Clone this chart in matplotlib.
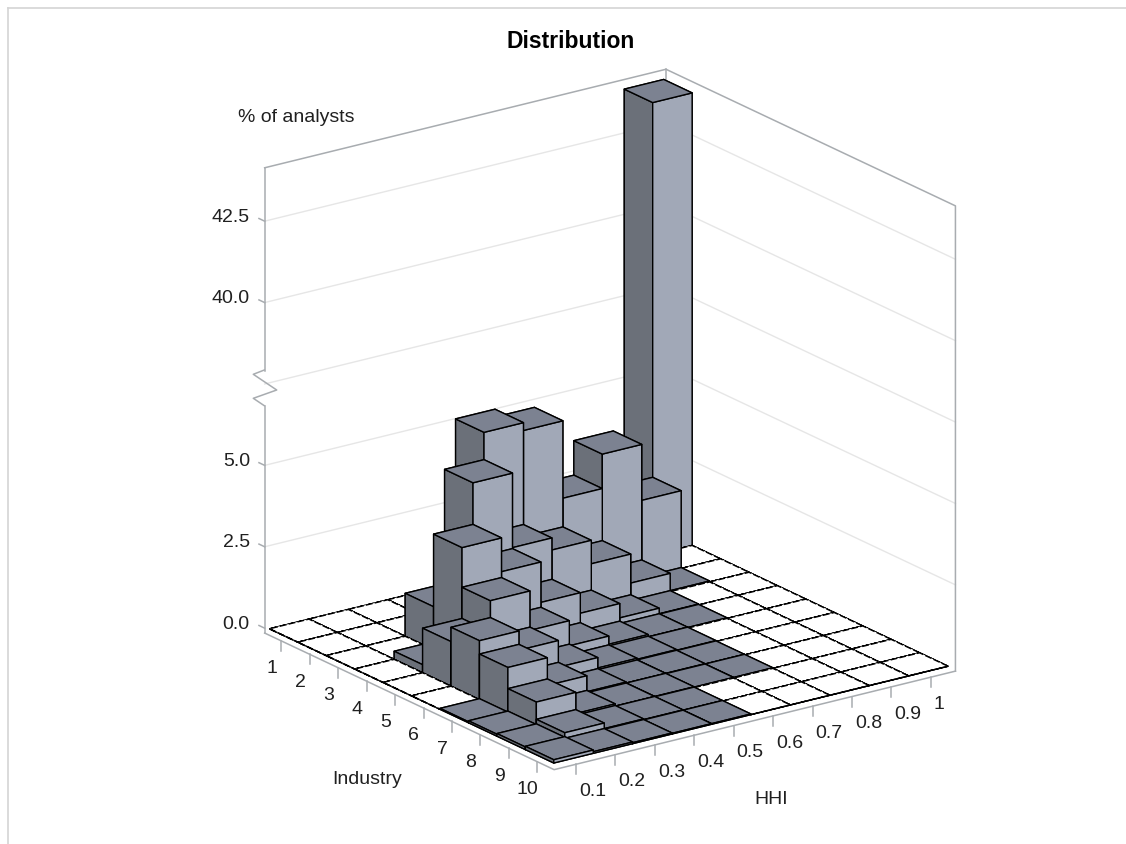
import numpy as np
import matplotlib
matplotlib.use('agg')
import matplotlib.pyplot as plt
from matplotlib.lines import Line2D
from mpl_toolkits.mplot3d import proj3d

plt.rcParams['font.family'] = ['Liberation Sans', 'DejaVu Sans']

W, H = 1126, 844

industry_labels = ['1', '2', '3', '4', '5', '6', '7', '8', '9', '10']
hhi_labels = ['0.1', '0.2', '0.3', '0.4', '0.5', '0.6', '0.7', '0.8', '0.9', '1']
pct_ticks = [0.0, 2.5, 5.0, 40.0, 42.5]

# % of analysts, HHI bins 0.1 .. 1
industry_1 = [0, 0, 0, 0, 0, 0, 0, 0, 0, 43.9]
industry_2 = [0, 0, 0, 0, 5.67, 5.43, 3.05, 4.11, 2.39, 0]
industry_3 = [0, 0, 1.32, 4.83, 2.54, 2.17, 1.45, 0.56, 0.03, 0]
industry_4 = [0, 0.25, 3.55, 2.51, 1.27, 0.64, 0.2, 0.03, 0, 0]
industry_5 = [0, 1.37, 2.33, 1.12, 0.35, 0.1, 0.03, 0.02, 0, 0]
industry_6 = [0, 1.81, 1.22, 0.4, 0.08, 0.05, 0.03, 0, 0, 0]
industry_7 = [0.03, 1.4, 0.55, 0.06, 0.03, 0.03, 0.02, 0, 0, 0]
industry_8 = [0.06, 0.75, 0.1, 0.03, 0.03, 0.02, 0.02, 0, 0, 0]
industry_9 = [0.08, 0.22, 0.05, 0.03, 0.02, 0, 0, 0, 0, 0]
industry_10 = [0.1, 0.05, 0.03, 0.02, 0.02, 0, 0, 0, 0, 0]

rows = [industry_1, industry_2, industry_3, industry_4, industry_5,
        industry_6, industry_7, industry_8, industry_9, industry_10]

LEFT, RIGHT, TOP = '#6b7079', '#a1a8b7', '#7c8291'
FRAME, GRID = '#a8acb0', '#e6e6e6'
TEXT = '#202020'
FS = 14


def brk(v):
    # axis is broken between 7.5 and 37.5
    return v if v <= 7.5 else v - 30.0


fig = plt.figure(figsize=(W / 100, H / 100), dpi=100)
ax = fig.add_axes([182.8 / W, -2.7 / H, 832 / W, 832 / H], projection='3d',
                  proj_type='ortho', computed_zorder=False)
ax.view_init(elev=19.9, azim=-35.8)
ax.set_box_aspect((1, 1, 1))
ax.set_axis_off()

x0, x1 = 0.41, 10.59
y0, y1 = 0.0443, 1.0623
z0, z1 = -0.15, 14.14


def line3(xs, ys, zs, color=FRAME, lw=1.1, z=0):
    ax.plot(xs, ys, zs, color=color, lw=lw, zorder=z, clip_on=False)


def label3(x, y, z, s, **kw):
    # text sits in figure coords, at the projected spot of (x, y, z)
    px, py, _ = proj3d.proj_transform(x, y, z, ax.get_proj())
    dx, dy = ax.transData.transform((px, py))
    fig.text(dx / W, dy / H, s, fontsize=FS, color=TEXT, va='center', **kw)


# walls
for v in [2.5, 5.0, 7.5, 40.0, 42.5]:
    zz = brk(v)
    line3([x0, x0, x1], [y0, y1, y1], [zz, zz, zz], color=GRID, lw=1.0)

line3([x0, x0], [y0, y0], [z0, 6.82])
line3([x0, x0], [y0, y0], [7.91, z1])
line3([x0, x0, x1, x1], [y0, y1, y1, y1], [z1, z1, z1, z0])
line3([x0, x0], [y1, y1], [z1 - 0.6, z1])
line3([x0, x1, x1], [y0, y0, y1], [z0, z0, z0])

zig = np.array([(264.3, 370), (253.3, 374.3), (276.7, 390), (253.3, 398.3), (264.3, 405.7)])
fig.add_artist(Line2D(zig[:, 0] / W, 1 - zig[:, 1] / H, color=FRAME, lw=1.1))

# ticks
for i in range(len(industry_labels)):
    line3([i + 1, i + 1], [y0, y0], [z0, z0 - 0.31])
for j in range(len(hhi_labels)):
    line3([x1, x1], [(j + 1) / 10, (j + 1) / 10], [z0, z0 - 0.31])
for v in pct_ticks:
    line3([x0, x0 - 0.2], [y0, y0], [brk(v), brk(v)])

# bars, back to front
order = 10
for i in range(10):
    for j in range(9, -1, -1):
        v = rows[i][j]
        px, py = i + 0.5, (j + 0.5) / 10
        if v == 0:
            art = ax.bar3d(px, py, 0, 1, 0.1, 0, color='white', shade=False,
                           edgecolor='black', linewidth=1.0, linestyle=(0, (5, 1.5)))
        else:
            # -Z, +Z, -Y, +Y, -X, +X
            art = ax.bar3d(px, py, 0, 1, 0.1, brk(v),
                           color=[LEFT, TOP, LEFT, RIGHT, LEFT, RIGHT], shade=False,
                           edgecolor='black', linewidth=1.0)
        art.set_zorder(order)
        order += 1

ax.set_xlim(x0, x1)
ax.set_ylim(y0, y1)
ax.set_zlim(z0, z1)

for i, lab in enumerate(industry_labels):
    label3(i + 1, y0 - 0.025, z0 - 0.78, lab, ha='center')
for j, lab in enumerate(hhi_labels):
    label3(x1 + 0.1, (j + 1) / 10, z0 - 0.8, lab, ha='left')
for v in pct_ticks:
    label3(x0 - 0.52, y0, brk(v) - 0.09, f'{v:.1f}', ha='right')

fig.text(571 / W, 1 - 42 / H, 'Distribution', fontsize=16.5, fontweight='bold',
         ha='center', va='center')
fig.text(296 / W, 1 - 118 / H, '% of analysts', fontsize=FS, color=TEXT, ha='center', va='center')
fig.text(367 / W, 1 - 780 / H, 'Industry', fontsize=FS, color=TEXT, ha='center', va='center')
fig.text(771 / W, 1 - 800 / H, 'HHI', fontsize=FS, color=TEXT, ha='center', va='center')

# image frame
fig.add_artist(Line2D([8 / W, 1], [1 - 8 / H, 1 - 8 / H], color='#d4d4d4', lw=1.2))
fig.add_artist(Line2D([8 / W, 8 / W], [1 - 8 / H, 0], color='#d4d4d4', lw=1.2))

fig.savefig('out.png', dpi=100)
